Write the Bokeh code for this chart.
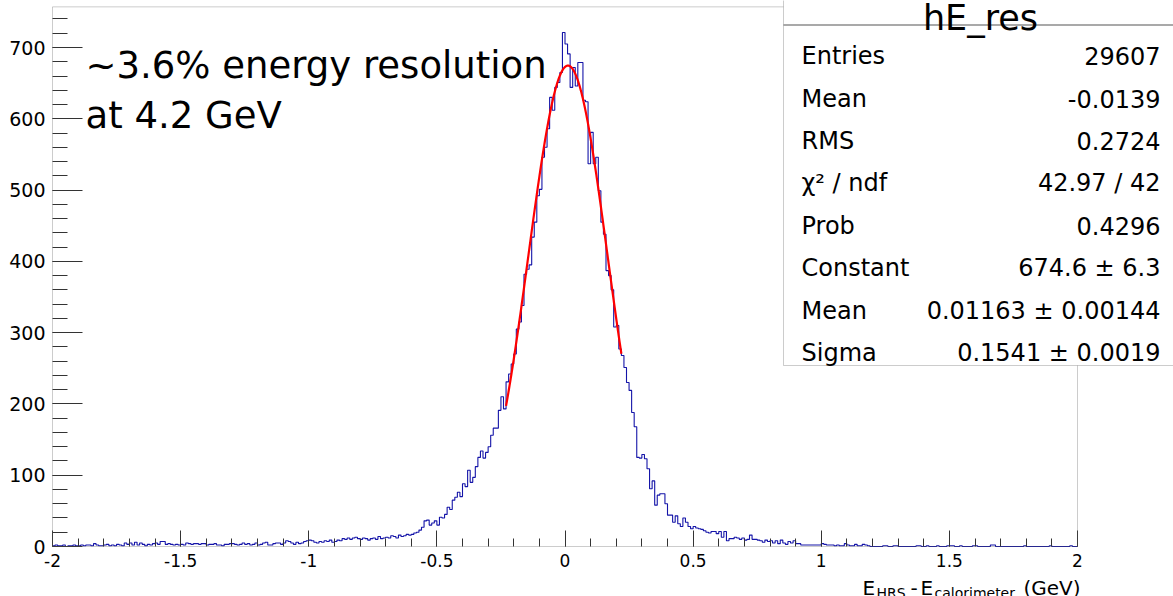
import math
from bokeh.plotting import figure
from bokeh.models import FixedTicker, Label, BoxAnnotation, Range1d
from bokeh.embed import file_html
from bokeh.resources import INLINE

# ---------------- data ----------------
bin_lo = -2.0
bin_width = 0.01
counts = [
    1, 2, 1, 1, 2, 0, 1, 1, 2, 1,            # -2.0
    1, 2, 1, 2, 2, 1, 4, 2, 1, 1,            # -1.9
    2, 3, 1, 2, 1, 3, 2, 1, 5, 3,            # -1.8
    5, 2, 6, 2, 5, 3, 1, 3, 2, 4,            # -1.7
    5, 3, 7, 7, 3, 4, 3, 2, 3, 2,            # -1.6
    3, 2, 5, 4, 3, 4, 4, 3, 4, 4,            # -1.5
    2, 3, 3, 4, 2, 2, 1, 3, 3, 4,            # -1.4
    4, 3, 2, 3, 5, 3, 4, 2, 3, 5,            # -1.3
    2, 3, 5, 6, 2, 2, 4, 5, 5, 3,            # -1.2
    5, 8, 7, 5, 3, 6, 4, 5, 7, 8,            # -1.1
    9, 8, 6, 5, 7, 6, 8, 7, 9, 6,            # -1.0
    7, 9, 8, 11, 10, 12, 10, 12, 13, 11,     # -0.9
    10, 12, 11, 9, 11, 12, 10, 14, 11, 12,   # -0.8
    13, 12, 15, 14, 12, 16, 14, 15, 17, 16,  # -0.7
    17, 19, 20, 23, 27, 36, 37, 30, 33, 36,  # -0.6
    30, 41, 40, 45, 55, 52, 65, 69, 76, 70,  # -0.5
    88, 84, 107, 90, 97, 112, 125, 134, 124, 132,      # -0.4
    140, 156, 166, 166, 191, 210, 193, 231, 242, 256,  # -0.3
    270, 305, 315, 338, 382, 389, 395, 434, 455, 492,  # -0.2
    501, 546, 560, 586, 630, 612, 644, 651, 665, 721,  # -0.1
    705, 691, 644, 672, 646, 679, 679, 626, 624, 537,  # 0.0
    581, 537, 546, 499, 455, 438, 387, 380, 360, 308,  # 0.1
    310, 277, 268, 251, 230, 219, 188, 168, 125, 124,  # 0.2
    129, 123, 109, 81, 92, 58, 72, 74, 74, 60,         # 0.3
    44, 44, 34, 43, 32, 28, 40, 34, 28, 25,            # 0.4
    28, 26, 25, 24, 22, 20, 19, 21, 21, 18,            # 0.5
    21, 13, 21, 8, 11, 11, 13, 12, 10, 12,             # 0.6
    9, 10, 16, 10, 10, 9, 8, 6, 9, 7,                  # 0.7
    8, 5, 8, 4, 9, 5, 3, 7, 5, 8,                      # 0.8
    4, 4, 2, 2, 2, 2, 2, 2, 2, 2,                      # 0.9
    4, 3, 2, 2, 2, 1, 2, 1, 1, 4,                      # 1.0
    2, 1, 1, 3, 1, 1, 3, 2, 1, 0,                      # 1.1
    0, 0, 0, 0, 1, 1, 0, 0, 1, 1,                      # 1.2
    0, 0, 0, 0, 0, 0, 0, 1, 1, 0,                      # 1.3
    0, 1, 0, 0, 0, 1, 0, 0, 0, 1,                      # 1.4
    1, 1, 0, 0, 1, 0, 0, 0, 0, 1,                      # 1.5
    1, 0, 0, 0, 0, 0, 2, 2, 0, 0,                      # 1.6
    0, 0, 0, 0, 0, 0, 0, 0, 0, 1,                      # 1.7
    0, 0, 0, 0, 0, 0, 0, 0, 0, 1,                      # 1.8
    0, 0, 0, 0, 0, 0, 0, 1, 0, 0,                      # 1.9
]

# Gaussian fit parameters (from the stats box) and fit range
fit_constant = 674.6
fit_mean = 0.01163
fit_sigma = 0.1541
fit_lo, fit_hi = -0.23, 0.22

x_lo, x_hi = -2.0, 2.0
y_lo, y_hi = 0.0, 757.0
x_major = [-2.0, -1.5, -1.0, -0.5, 0.0, 0.5, 1.0, 1.5, 2.0]
x_labels = ["-2", "-1.5", "-1", "-0.5", "0", "0.5", "1", "1.5", "2"]
x_minor = [round(-2.0 + 0.1 * k, 1) for k in range(41)]
y_major = [0, 100, 200, 300, 400, 500, 600, 700]
y_minor = list(range(0, 760, 20))

stat_title = "hE_res"
stat_names = ["Entries", "Mean", "RMS", "χ² / ndf", "Prob", "Constant", "Mean", "Sigma"]
stat_values = ["29607", "-0.0139", "0.2724", "42.97 / 42", "0.4296",
               "674.6 ± 6.3", "0.01163 ± 0.00144", "0.1541 ± 0.0019"]
note_lines = ["~3.6% energy resolution", "at 4.2 GeV"]
xtitle_parts = [("E", False), ("HRS", True), ("-", False), ("E", False),
                ("calorimeter", True), ("(GeV)", False)]

# ---------------- layout constants ----------------
W, H = 1173, 596
FL = 52             # pixel column of x = -2
FR = 1077           # pixel column of x = 2
FB = 546            # pixel row of y = 0
PX_PER_X = (FR - FL) / (x_hi - x_lo)
PX_PER_Y = 499.0 / 700.0
FONT = "DejaVu Sans"
GRAY = "#555555"
TICK = "#333333"

# the Bokeh frame covers the whole canvas; both axes sit at fixed data locations
# so that the stats box, the tick labels and the axis title are never clipped
xr_start = x_lo - FL / PX_PER_X
xr_end = x_hi + (W - FR) / PX_PER_X
yr_start = y_lo - (H - FB) / PX_PER_Y
yr_end = y_lo + FB / PX_PER_Y


def px2x(px):
    return x_lo + (px - FL) / PX_PER_X


def px2y(py):
    return y_lo + (FB - py) / PX_PER_Y


p = figure(width=W, height=H, x_range=Range1d(xr_start, xr_end), y_range=Range1d(yr_start, yr_end),
           output_backend="svg", toolbar_location=None, title=None,
           min_border_left=0, min_border_right=0,
           min_border_top=0, min_border_bottom=0)
p.xgrid.visible = False
p.ygrid.visible = False
p.outline_line_color = None
p.background_fill_color = "white"
p.border_fill_color = "white"

# histogram
edges = [round(bin_lo + k * bin_width, 4) for k in range(len(counts) + 1)]
p.step(x=edges, y=counts + [counts[-1]], mode="after", line_color="#1414a8", line_width=1.1)

# gaussian fit
n = 300
fx = [fit_lo + (fit_hi - fit_lo) * k / (n - 1) for k in range(n)]
fy = [fit_constant * math.exp(-0.5 * ((v - fit_mean) / fit_sigma) ** 2) for v in fx]
p.line(fx, fy, line_color="#ff0000", line_width=2.2)

# axes
xa = p.xaxis[0]
xa.fixed_location = y_lo
xa.ticker = FixedTicker(ticks=x_major, minor_ticks=x_minor)
xa.major_label_overrides = {t: l for t, l in zip(x_major, x_labels)}
xa.major_tick_in = 16
xa.major_tick_out = 0
xa.minor_tick_in = 8
xa.minor_tick_out = 0
xa.major_label_standoff = 7
xa.major_label_text_font = FONT
xa.major_label_text_font_size = "17px"
xa.major_label_text_color = "black"
xa.axis_line_color = None
xa.major_tick_line_color = TICK
xa.minor_tick_line_color = TICK

ya = p.yaxis[0]
ya.fixed_location = x_lo
ya.ticker = FixedTicker(ticks=y_major, minor_ticks=y_minor)
ya.major_tick_in = 30
ya.major_tick_out = 0
ya.minor_tick_in = 15
ya.minor_tick_out = 0
ya.major_label_standoff = 7
ya.major_label_text_font = FONT
ya.major_label_text_font_size = "19px"
ya.major_label_text_color = "black"
ya.axis_line_color = None
ya.major_tick_line_color = TICK
ya.minor_tick_line_color = TICK

# ROOT frame
p.add_layout(BoxAnnotation(left=x_lo, right=x_hi, bottom=y_lo, top=y_hi,
                           fill_alpha=0, line_color=GRAY, line_width=1))


def lab(text, x, y, size, align="left"):
    p.add_layout(Label(x=x, y=y, text=text, text_font=FONT,
                       text_font_size=f"{size}px", text_align=align,
                       text_baseline="alphabetic", text_color="black"))


# annotation text
lab(note_lines[0], px2x(85), px2y(65), 37)
lab(note_lines[1], px2x(85), px2y(115), 37)

# stats box
p.add_layout(BoxAnnotation(left=px2x(783), right=px2x(1180), top=px2y(-2), bottom=px2y(365),
                           fill_color="white", fill_alpha=1.0, line_color=GRAY, line_width=1))
p.add_layout(BoxAnnotation(left=px2x(783), right=px2x(1180), top=px2y(24), bottom=px2y(25),
                           fill_color=GRAY, fill_alpha=1.0, line_alpha=0))
lab(stat_title, px2x(980), px2y(17), 35, "center")
row_base = [55, 98, 140, 182, 225, 267, 310, 352]
for name, val, yb in zip(stat_names, stat_values, row_base):
    lab(name, px2x(801), px2y(yb), 24)
    lab(val, px2x(1160), px2y(yb), 24, "right")

# x axis title with subscripts
part_x = [862, 876, 910, 920, 934, 1080]
for (txt, sub), xp in zip(xtitle_parts, part_x):
    yb = 592 if sub else 587
    lab(txt, px2x(xp), px2y(yb), 14 if sub else 20, "right" if txt == "(GeV)" else "left")

open("out.html", "w").write(file_html(p, INLINE))
